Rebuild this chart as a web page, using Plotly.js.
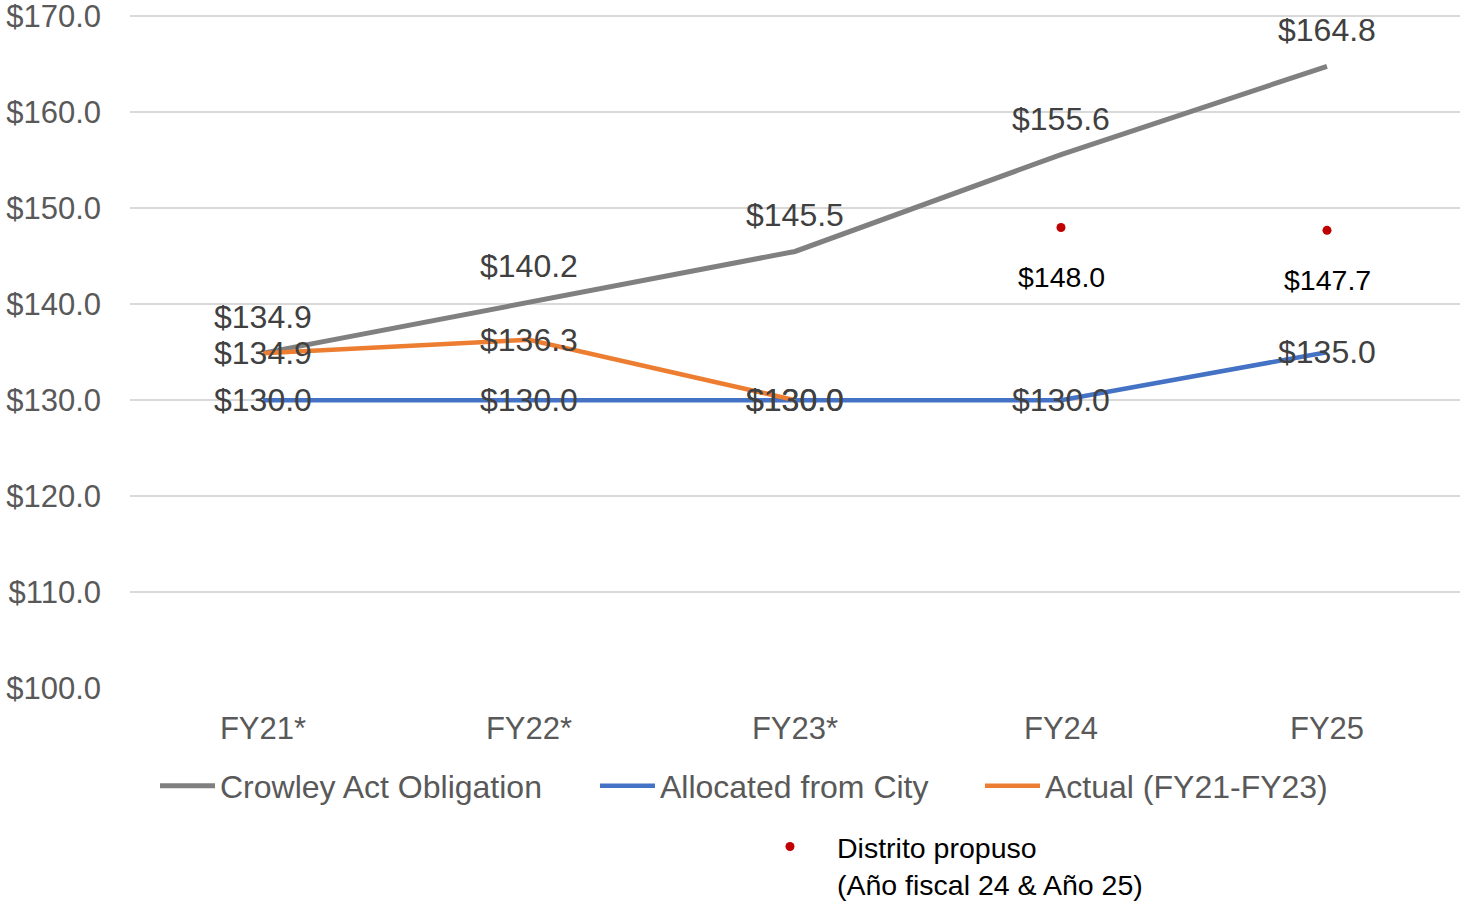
<!DOCTYPE html>
<html>
<head>
<meta charset="utf-8">
<script src="https://cdn.plot.ly/plotly-3.0.1.min.js"></script>
<style>html,body{margin:0;padding:0;background:#fff;}#chart{width:1460px;height:904px;}</style>
</head>
<body>
<div id="chart"></div>
<script>
const categories = ["FY21*", "FY22*", "FY23*", "FY24", "FY25"];
const crowley = [134.9, 140.2, 145.5, 155.6, 164.8];
const allocated = [130.0, 130.0, 130.0, 130.0, 135.0];
const actualCats = ["FY21*", "FY22*", "FY23*"];
const actual = [134.9, 136.3, 130.0];
const proposedCats = ["FY24", "FY25"];
const proposed = [148.0, 147.7];
const yTicks = [100, 110, 120, 130, 140, 150, 160, 170];

const FONT = "Liberation Sans, Arial, sans-serif";
const fmt = v => "$" + v.toFixed(1);

const traces = [
  {x: categories, y: crowley, name: "Crowley Act Obligation", mode: "lines",
   line: {color: "#808080", width: 5}, hoverinfo: "skip", legend: "legend"},
  {x: categories, y: allocated, name: "Allocated from City", mode: "lines",
   line: {color: "#4472C4", width: 4.5}, hoverinfo: "skip", legend: "legend3"},
  {x: actualCats, y: actual, name: "Actual (FY21-FY23)", mode: "lines",
   line: {color: "#ED7D31", width: 4.5}, hoverinfo: "skip", legend: "legend4"},
  {x: proposedCats, y: proposed, name: "Distrito propuso<br>(Año fiscal 24 & Año 25)", mode: "markers",
   marker: {color: "#C00000", size: 9}, legend: "legend2", hoverinfo: "skip"}
];

const annotations = [];
const labelFont = {family: FONT, size: 32, color: "#404040"};
categories.forEach((c, i) => annotations.push({x: c, y: crowley[i], text: fmt(crowley[i]), showarrow: false, yshift: 36, font: labelFont}));
categories.forEach((c, i) => annotations.push({x: c, y: allocated[i], text: fmt(allocated[i]), showarrow: false, yshift: 0, font: labelFont}));
actualCats.forEach((c, i) => annotations.push({x: c, y: actual[i], text: fmt(actual[i]), showarrow: false, yshift: 0, font: labelFont}));
proposedCats.forEach((c, i) => annotations.push({x: c, y: proposed[i], text: fmt(proposed[i]), showarrow: false, yshift: -50, font: {family: FONT, size: 28.5, color: "#000000"}}));

const legFont = {family: FONT, size: 32, color: "#595959"};
const legBase = {orientation: "h", xanchor: "left", y: -0.1454, yanchor: "middle",
                 font: legFont, bgcolor: "rgba(0,0,0,0)", itemwidth: 55};

const layout = {
  width: 1460, height: 904,
  margin: {l: 130, r: 0, t: 14, b: 216, autoexpand: false},
  paper_bgcolor: "#ffffff", plot_bgcolor: "#ffffff",
  font: {family: FONT, color: "#595959"},
  showlegend: true,
  xaxis: {type: "category", range: [-0.5, 4.5], autorange: false, showgrid: false, zeroline: false, showline: false,
          tickfont: {family: FONT, size: 31, color: "#595959"}, ticks: "", ticklabelstandoff: 19, fixedrange: true},
  yaxis: {range: [100, 170.25], autorange: false, tickvals: yTicks, ticktext: yTicks.map(fmt), showgrid: true,
          gridcolor: "#d9d9d9", gridwidth: 2, zeroline: false, showline: false, ticklabeloverflow: "allow",
          tickfont: {family: FONT, size: 31, color: "#595959"}, ticks: "", ticklabelstandoff: 28, fixedrange: true},
  legend: Object.assign({}, legBase, {x: 0.0188}),
  legend3: Object.assign({}, legBase, {x: 0.3496}),
  legend4: Object.assign({}, legBase, {x: 0.6391}),
  legend2: {orientation: "h", x: 0.4609, xanchor: "left", y: -0.198, yanchor: "top", valign: "top", itemwidth: 84,
           font: {family: FONT, size: 28.5, color: "#000000"}, bgcolor: "rgba(0,0,0,0)"},
  annotations: annotations
};

Plotly.newPlot("chart", traces, layout, {displayModeBar: false, staticPlot: true});
</script>
</body>
</html>
